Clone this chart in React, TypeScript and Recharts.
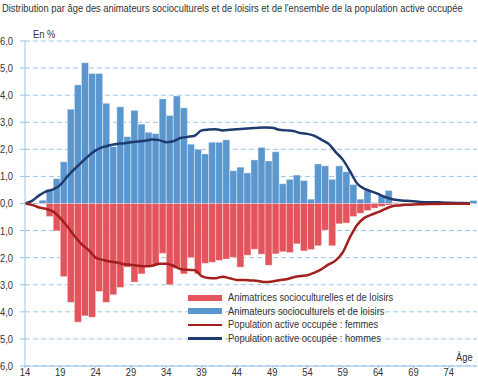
import React from 'react';
import { ComposedChart, Bar, Line, XAxis, YAxis, CartesianGrid } from 'recharts';

const ages = [
  14, 15, 16, 17, 18, 19, 20, 21, 22, 23, 24, 25, 26, 27, 28, 29,
  30, 31, 32, 33, 34, 35, 36, 37, 38, 39, 40, 41, 42, 43, 44, 45,
  46, 47, 48, 49, 50, 51, 52, 53, 54, 55, 56, 57, 58, 59, 60, 61,
  62, 63, 64, 65, 66, 67, 68, 69, 70, 71, 72, 73, 74, 75, 76, 77,
];

// Animateurs socioculturels et de loisirs (hommes), en %
const animateurs = [
  0, 0, 0.12, 0.52, 0.92, 1.54, 3.48, 4.38, 5.2, 4.8, 4.8, 3.7, 2.1, 3.57, 2.47, 3.44,
  2.93, 2.63, 2.58, 3.86, 3.25, 3.97, 3.53, 2.19, 2.0, 1.83, 2.26, 2.26, 2.35, 1.21, 1.34, 1.13,
  1.61, 2.07, 1.57, 1.91, 0.73, 0.89, 1.05, 0.85, 0.16, 1.46, 1.39, 0.89, 1.39, 1.17, 0.7, 0.16,
  0.47, 0.03, 0.28, 0.48, 0.03, 0.02, 0.02, 0.01, 0.01, 0, 0.01, 0, 0, 0, 0, 0.11,
];

// Animatrices socioculturelles et de loisirs (femmes), en %
const animatrices = [
  0, 0, 0.02, 0.48, 1.01, 2.7, 3.65, 4.38, 4.15, 4.2, 3.25, 3.65, 3.37, 3.1, 2.35, 2.9,
  2.6, 2.34, 2.3, 1.84, 3.0, 2.4, 2.6, 2.0, 2.6, 2.21, 2.17, 2.1, 2.05, 1.99, 2.35, 1.91,
  1.69, 1.87, 2.28, 1.86, 1.78, 1.81, 1.49, 1.75, 1.7, 1.56, 0.98, 1.56, 0.75, 0.72, 0.48, 0.36,
  0.26, 0.17, 0.11, 0.06, 0.03, 0.02, 0.01, 0.01, 0.01, 0, 0, 0, 0, 0, 0, 0,
];

// Population active occupée : hommes
const popHommes = [
  0, 0.1, 0.3, 0.45, 0.52, 0.69, 1.0, 1.27, 1.52, 1.76, 1.96, 2.08, 2.15, 2.2, 2.22, 2.26,
  2.29, 2.32, 2.36, 2.34, 2.26, 2.3, 2.42, 2.46, 2.5, 2.7, 2.73, 2.74, 2.7, 2.72, 2.74, 2.76,
  2.78, 2.8, 2.81, 2.8, 2.72, 2.7, 2.68, 2.6, 2.57, 2.5, 2.35, 2.2, 1.9, 1.62, 1.2, 0.75,
  0.55, 0.45, 0.35, 0.24, 0.16, 0.12, 0.1, 0.08, 0.06, 0.05, 0.05, 0.04, 0.03, 0.02, 0.02, 0.01,
];

// Population active occupée : femmes
const popFemmes = [
  0, 0.05, 0.15, 0.2, 0.3, 0.54, 0.85, 1.2, 1.5, 1.72, 2.0, 2.08, 2.14, 2.18, 2.24, 2.26,
  2.3, 2.32, 2.3, 2.22, 2.22, 2.3, 2.42, 2.45, 2.46, 2.68, 2.75, 2.76, 2.7, 2.76, 2.82, 2.82,
  2.84, 2.86, 2.9, 2.88, 2.83, 2.8, 2.72, 2.68, 2.65, 2.55, 2.42, 2.25, 2.1, 1.8, 1.25, 0.8,
  0.54, 0.42, 0.32, 0.2, 0.1, 0.07, 0.05, 0.04, 0.03, 0.02, 0.02, 0.01, 0.01, 0.01, 0.01, 0.01,
];

const xTicks = [14, 19, 24, 29, 34, 39, 44, 49, 54, 59, 64, 69, 74];
const yTicks = [-6, -5, -4, -3, -2, -1, 0, 1, 2, 3, 4, 5, 6];

const legendItems = [
  { label: 'Animatrices socioculturelles et de loisirs', color: '#e3545c', kind: 'bar' },
  { label: 'Animateurs socioculturels et de loisirs', color: '#5b97cf', kind: 'bar' },
  { label: 'Population active occupée : femmes', color: '#a3201e', kind: 'line' },
  { label: 'Population active occupée : hommes', color: '#1f3c6e', kind: 'line' },
];

const data = ages.map((age, i) => ({
  age,
  animateurs: animateurs[i],
  animatrices: -animatrices[i],
  hommes: popHommes[i],
  femmes: -popFemmes[i],
}));

// no narrow font installed: squeeze Liberation Sans horizontally
const FONT = "'Liberation Sans', Arial, sans-serif";
const SQUEEZE = 0.85;
const AXIS = '#9dc3e6';
const TEXT = '#333';

const fmt = (v: number) => Math.abs(v).toFixed(1).replace('.', ',');

const YTick = (props: any) => {
  const { x, y, payload } = props;
  return (
    <text
      transform={`translate(${x},${y}) scale(${SQUEEZE},1)`}
      textAnchor="end"
      dy="0.36em"
      fontSize={11}
      fontFamily={FONT}
      fill={TEXT}
    >
      {fmt(payload.value)}
    </text>
  );
};

const XTick = (props: any) => {
  const { x, y, payload } = props;
  return (
    <text
      transform={`translate(${x},${y}) scale(${SQUEEZE},1)`}
      textAnchor="middle"
      dy="0.75em"
      fontSize={11}
      fontFamily={FONT}
      fill={TEXT}
    >
      {payload.value}
    </text>
  );
};

const squeezed: React.CSSProperties = {
  display: 'inline-block',
  transform: `scaleX(${SQUEEZE})`,
  transformOrigin: 'left center',
  whiteSpace: 'nowrap',
};

export default function App() {
  return (
    <div style={{ position: 'absolute', left: 0, top: 0, width: 478, height: 383, background: '#fff', fontFamily: FONT, color: TEXT, overflow: 'hidden' }}>
      <div style={{ position: 'absolute', left: 2, top: 2, fontSize: 11, lineHeight: '13px' }}>
        <span style={squeezed}>
          Distribution par âge des animateurs socioculturels et de loisirs et de l'ensemble de la population active occupée
        </span>
      </div>
      <div style={{ position: 'absolute', left: 33, top: 28, fontSize: 11, lineHeight: '13px' }}>
        <span style={squeezed}>En %</span>
      </div>
      <div style={{ position: 'absolute', left: 456, top: 351, fontSize: 11, lineHeight: '13px' }}>
        <span style={squeezed}>Âge</span>
      </div>

      <ComposedChart
        width={478}
        height={383}
        data={data}
        stackOffset="sign"
        barCategoryGap={0}
        barGap={0}
        margin={{ top: 41, right: 1, bottom: 0, left: 0 }}
      >
        <CartesianGrid xAxisId="num" vertical={false} stroke={AXIS} strokeDasharray="5 3" />
        <XAxis
          xAxisId="num"
          dataKey="age"
          type="number"
          domain={[14, 78]}
          ticks={xTicks}
          height={17}
          axisLine={{ stroke: AXIS }}
          tickLine={{ stroke: AXIS }}
          tickSize={2}
          tickMargin={0}
          tick={<XTick />}
          interval={0}
        />
        <XAxis xAxisId="band" dataKey="age" type="category" hide height={0} />
        <YAxis
          domain={[-6, 6]}
          ticks={yTicks}
          width={25}
          axisLine={{ stroke: AXIS }}
          tickLine={{ stroke: AXIS }}
          tickSize={5}
          tickMargin={7}
          tick={<YTick />}
          interval={0}
        />
        <Bar xAxisId="band" dataKey="animateurs" stackId="a" fill="#5b97cf" stroke="#ffffff" strokeOpacity={0.35} strokeWidth={1} isAnimationActive={false} />
        <Bar xAxisId="band" dataKey="animatrices" stackId="a" fill="#e3545c" stroke="#ffffff" strokeOpacity={0.35} strokeWidth={1} isAnimationActive={false} />
        <Line xAxisId="num" type="monotone" dataKey="hommes" stroke="#1f3c6e" strokeWidth={2.5} dot={false} isAnimationActive={false} />
        <Line xAxisId="num" type="monotone" dataKey="femmes" stroke="#a3201e" strokeWidth={2.5} dot={false} isAnimationActive={false} />
      </ComposedChart>

      <div style={{ position: 'absolute', left: 188, top: 291, fontSize: 11, lineHeight: '13.5px' }}>
        {legendItems.map((item) => (
          <div key={item.label} style={{ display: 'flex', alignItems: 'center', whiteSpace: 'nowrap' }}>
            <span
              style={{
                display: 'inline-block',
                width: 34,
                height: item.kind === 'bar' ? 6 : 2.5,
                background: item.color,
                marginRight: 6,
                flex: 'none',
              }}
            />
            <span style={squeezed}>{item.label}</span>
          </div>
        ))}
      </div>
    </div>
  );
}
